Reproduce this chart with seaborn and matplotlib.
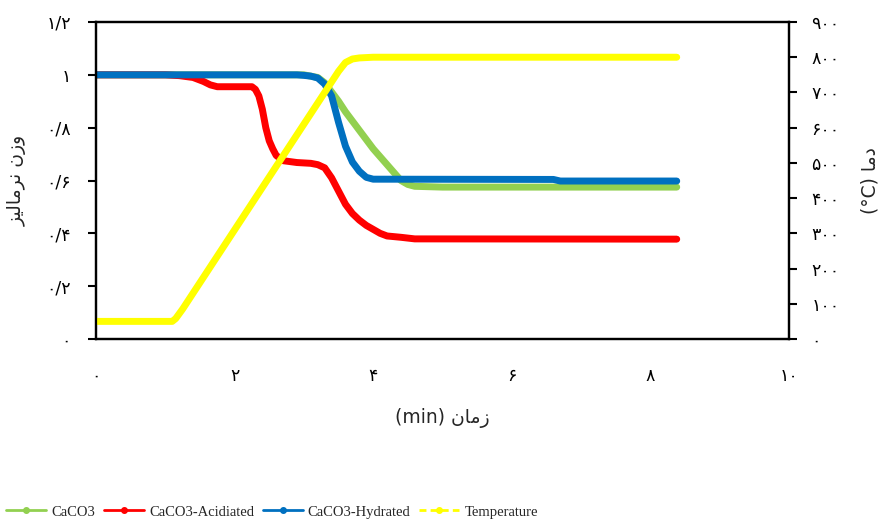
import matplotlib
matplotlib.use("Agg")
import matplotlib.pyplot as plt
from matplotlib.lines import Line2D
import seaborn as sns
import pandas as pd

# ---- data ----
t_caco3 = [0, 3.0, 3.2, 3.3, 3.4, 3.5, 3.6, 3.7, 3.8, 3.9, 4.0, 4.1, 4.2, 4.3, 4.4, 4.5, 4.6, 5.0, 8.38]
w_caco3 = [1.0, 1.0, 0.99, 0.97, 0.935, 0.90, 0.86, 0.825, 0.79, 0.755, 0.72, 0.69, 0.66, 0.63, 0.60, 0.585, 0.578, 0.575, 0.575]

t_acid = [0, 1.0, 1.2, 1.4, 1.55, 1.65, 1.75, 2.25, 2.3, 2.35, 2.4, 2.45, 2.5, 2.55, 2.6, 2.7, 2.9, 3.1,
          3.2, 3.3, 3.4, 3.5, 3.6, 3.7, 3.8, 3.9, 4.0, 4.1, 4.2, 4.4, 4.6, 8.38]
w_acid = [1.0, 1.0, 0.997, 0.99, 0.975, 0.962, 0.955, 0.955, 0.945, 0.92, 0.87, 0.80, 0.75, 0.72, 0.695, 0.675, 0.668, 0.665,
          0.66, 0.648, 0.61, 0.56, 0.51, 0.475, 0.45, 0.43, 0.415, 0.40, 0.39, 0.385, 0.379, 0.378]

t_hyd = [0, 2.9, 3.0, 3.1, 3.2, 3.3, 3.4, 3.5, 3.6, 3.7, 3.8, 3.9, 4.0, 6.6, 6.7, 8.38]
w_hyd = [1.0, 1.0, 0.998, 0.995, 0.988, 0.965, 0.92, 0.82, 0.73, 0.67, 0.635, 0.612, 0.605, 0.604, 0.598, 0.598]

t_temp = [0, 1.1, 1.15, 1.25, 1.5, 2.0, 2.5, 3.0, 3.5, 3.6, 3.7, 3.8, 4.0, 8.38]
temp = [50, 50, 58, 85, 160, 310, 460, 610, 760, 785, 795, 798, 800, 800]

series_names = ["CaCO3", "CaCO3-Acidiated", "CaCO3-Hydrated", "Temperature"]
series_colors = ["#92D050", "#FF0000", "#0070C0", "#FFFF00"]

x_ticks = [0, 2, 4, 6, 8, 10]
x_ticklabels = ["۰", "۲", "۴", "۶", "۸", "۱۰"]
yl_ticks = [0, 0.2, 0.4, 0.6, 0.8, 1.0, 1.2]
yl_ticklabels = ["۰", "۰/۲", "۰/۴", "۰/۶", "۰/۸", "۱", "۱/۲"]
yr_ticks = [0, 100, 200, 300, 400, 500, 600, 700, 800, 900]
yr_ticklabels = ["۰", "۱۰۰", "۲۰۰", "۳۰۰", "۴۰۰", "۵۰۰", "۶۰۰", "۷۰۰", "۸۰۰", "۹۰۰"]

# visual-order, pre-shaped Persian labels
xlabel = "(min) ﻥﺎﻣﺯ"
ylabel_left = "ﺰﻴﻟﺎﻣﺮﻧ ﻥﺯﻭ"
ylabel_right = "(°C) ﺎﻣﺩ"

# ---- plot ----
sns.set_theme(style="white")
plt.rcParams["font.family"] = ["DejaVu Sans"]

fig = plt.figure(figsize=(8.83, 5.24), dpi=100)
ax = fig.add_axes([96 / 883, 1 - 339 / 524, (789 - 96) / 883, (339 - 22) / 524])

lw = 5
df_c = pd.DataFrame({"t": t_caco3, "w": w_caco3})
df_a = pd.DataFrame({"t": t_acid, "w": w_acid})
df_h = pd.DataFrame({"t": t_hyd, "w": w_hyd})
df_t = pd.DataFrame({"t": t_temp, "T": temp})

for df, col in [(df_c, series_colors[0]), (df_a, series_colors[1]), (df_h, series_colors[2])]:
    sns.lineplot(data=df, x="t", y="w", ax=ax, color=col, linewidth=lw, sort=False,
                 solid_capstyle="round", solid_joinstyle="round", legend=False)

tick_fs = 12.5
lab_fs = 13.5
ax.set_xlim(0, 10)
ax.set_ylim(0, 1.2)
ax.set_xticks(x_ticks)
ax.set_xticklabels(x_ticklabels, fontsize=tick_fs)
ax.set_yticks(yl_ticks)
ax.set_yticklabels(yl_ticklabels, fontsize=tick_fs)
ax.tick_params(axis="x", direction="out", length=6, width=1.5, pad=14, colors="black")
ax.tick_params(axis="y", direction="out", length=6, width=1.5, pad=12, colors="black")
ax.set_xlabel(xlabel, fontsize=lab_fs, labelpad=17)
ax.set_ylabel(ylabel_left, fontsize=lab_fs, rotation=90, labelpad=14)
for s in ax.spines.values():
    s.set_color("black")
    s.set_linewidth(1.6)

ax2 = ax.twinx()
sns.lineplot(data=df_t, x="t", y="T", ax=ax2, color=series_colors[3], linewidth=lw, sort=False,
             solid_capstyle="round", solid_joinstyle="round", legend=False)
ax2.set_ylim(0, 900)
ax2.set_yticks(yr_ticks)
ax2.set_yticklabels(yr_ticklabels, fontsize=tick_fs)
ax2.tick_params(axis="y", direction="out", length=6, width=1.5, pad=10, colors="black")
ax2.set_ylabel(ylabel_right, fontsize=lab_fs, rotation=90, labelpad=15)
ax2.set_xlim(0, 10)
for s in ax2.spines.values():
    s.set_color("black")
    s.set_linewidth(1.6)

handles = []
for name, col in zip(series_names, series_colors):
    ls = (0, (2.5, 1.5)) if name == "Temperature" else "-"
    handles.append(Line2D([0], [0], color=col, lw=2, linestyle=ls, marker="o", markersize=4))
fig.legend(handles, series_names, loc="center left", bbox_to_anchor=(0.0, (524 - 512) / 524),
           ncol=4, frameon=False, prop={"family": "Liberation Serif", "size": 10.5},
           handlelength=2.75, handletextpad=0.35, columnspacing=0.6, borderaxespad=0, borderpad=0.4)

fig.savefig("out.png", dpi=100)
